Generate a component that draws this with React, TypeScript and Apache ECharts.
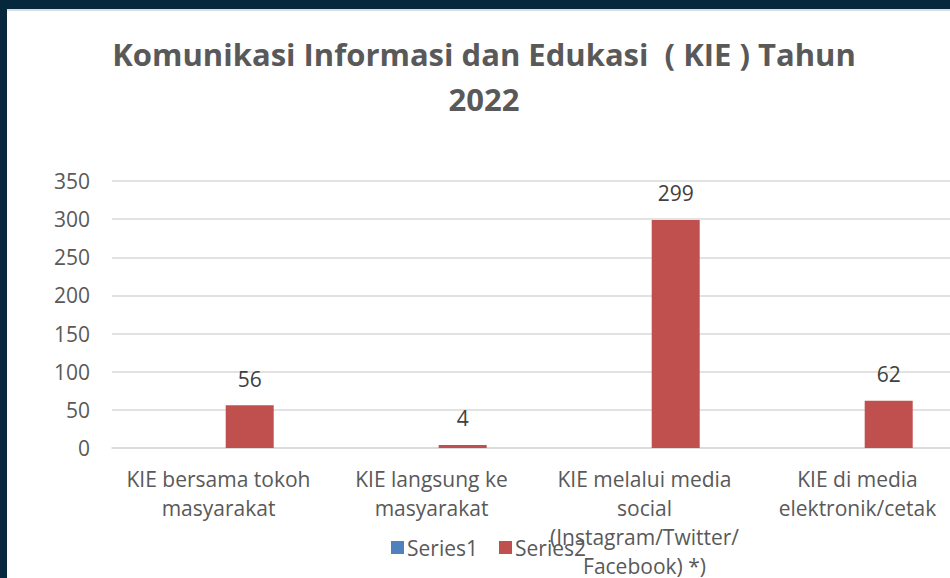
import React, { useEffect, useRef } from "react";
import * as echarts from "echarts";

const titleLines = ["Komunikasi Informasi dan Edukasi  ( KIE ) Tahun", "2022"];
const categories = [
  "KIE bersama tokoh\nmasyarakat",
  "KIE langsung ke\nmasyarakat",
  "KIE melalui media\nsocial\n(Instagram/Twitter/\nFacebook) *)",
  "KIE di media\nelektronik/cetak",
];
const series1Values = [0, 0, 0, 0];
const series2Values = [56, 4, 299, 62];
const seriesNames = ["Series1", "Series2"];
const yMin = 0;
const yMax = 350;
const yInterval = 50;

const FONT = "Open Sans";

export default function App() {
  const ref = useRef<HTMLDivElement>(null);
  useEffect(() => {
    if (!ref.current) return;
    const chart = echarts.init(ref.current, undefined, { renderer: "svg" });
    chart.setOption({
      animation: false,
      backgroundColor: "#ffffff",
      textStyle: { fontFamily: FONT },
      title: {
        text: titleLines.join("\n"),
        left: 472,
        top: 17,
        textAlign: "center",
        textStyle: {
          fontFamily: FONT,
          fontSize: 31,
          fontWeight: "bold",
          color: "#595959",
          lineHeight: 45,
        },
      },
      legend: {
        left: 384,
        top: 528,
        padding: 0,
        itemWidth: 13,
        itemHeight: 13,
        itemGap: 21,
        icon: "rect",
        textStyle: { fontFamily: FONT, fontSize: 21, color: "#595959", padding: [0, 0, 0, -2] },
        data: seriesNames,
      },
      grid: {
        left: 105,
        right: 3,
        top: 172,
        bottom: 130,
        containLabel: false,
        outerBoundsMode: "none",
      },
      xAxis: {
        type: "category",
        data: categories,
        axisLine: { show: true, lineStyle: { color: "#d9d9d9", width: 1.5 } },
        axisTick: { show: false },
        axisLabel: {
          interval: 0,
          margin: 16,
          fontFamily: FONT,
          fontSize: 21,
          color: "#595959",
          lineHeight: 29,
        },
      },
      yAxis: {
        type: "value",
        min: yMin,
        max: yMax,
        interval: yInterval,
        axisLine: { show: false },
        axisTick: { show: false },
        splitLine: { lineStyle: { color: "#d9d9d9", width: 1.5 } },
        axisLabel: { margin: 22, fontFamily: FONT, fontSize: 21, color: "#595959" },
      },
      series: [
        {
          name: seriesNames[0],
          type: "bar",
          data: series1Values,
          barWidth: 48,
          barGap: "30%",
          itemStyle: { color: "#4f81bd" },
        },
        {
          name: seriesNames[1],
          type: "bar",
          data: series2Values,
          barWidth: 48,
          barGap: "30%",
          itemStyle: { color: "#c0504d" },
          label: {
            show: true,
            position: "top",
            distance: 16,
            fontFamily: FONT,
            fontSize: 21,
            color: "#404040",
          },
        },
      ],
    });
    return () => chart.dispose();
  }, []);
  return (
    <div
      style={{
        position: "fixed",
        left: 0,
        top: 0,
        width: 950,
        height: 578,
        background: "#06283d",
        overflow: "hidden",
      }}
    >
      <div
        ref={ref}
        style={{
          position: "absolute",
          left: 7,
          top: 9,
          width: 960,
          height: 569,
          background: "#ffffff",
        }}
      />
      <div style={{ position: "absolute", left: 7, top: 9, width: 943, height: 2, background: "#d9dde0" }} />
    </div>
  );
}
